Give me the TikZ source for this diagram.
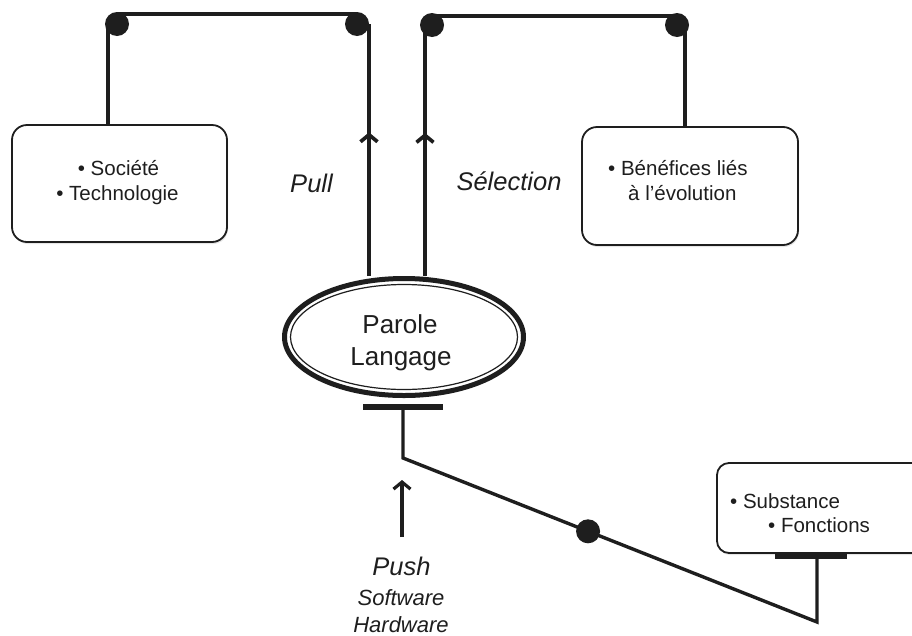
\documentclass[tikz,border=0pt]{standalone}
\usepackage{fontspec}
\setmainfont{Liberation Sans}
\usetikzlibrary{arrows.meta,decorations.markings,calc,shapes.geometric,shadows}
\definecolor{ink}{HTML}{1E1E1E}
\begin{document}
\begin{tikzpicture}[x=1pt,y=-1pt,
  box/.style={draw=ink, line width=1.8pt, rounded corners=15pt, fill=white, inner sep=0pt,
    drop shadow={opacity=0.2, shadow xshift=1pt, shadow yshift=-2pt}},
  conn/.style={line width=3.7pt, draw=ink},
  dot/.style={circle, fill=ink, inner sep=0pt, minimum size=24pt},
  bar/.style={rectangle, fill=ink, inner sep=0pt, minimum height=6pt},
  lbl/.style={font=\fontsize{20.5}{24}\selectfont, text=ink, inner sep=0pt, anchor=base},
  big/.style={font=\fontsize{26}{30}\selectfont, text=ink, inner sep=0pt, anchor=base},
  bigit/.style={font=\fontsize{25.5}{30}\selectfont\itshape, text=ink, inner sep=0pt, anchor=base},
  smit/.style={font=\fontsize{22}{26}\selectfont\itshape, text=ink, inner sep=0pt, anchor=base},
  midarrow/.style={postaction={decorate}, decoration={markings, mark=at position #1 with {\arrow{Straight Barb[length=7pt,width=17pt]}}}}
]
\useasboundingbox (0,0) rectangle (912,635);
\clip (0,0) rectangle (912,635);

% boxes and ellipse
\node[box, minimum width=215pt, minimum height=117pt] (lbox) at (119.5,183.5) {};
\node[box, minimum width=216pt, minimum height=118pt] (rbox) at (690,186) {};
\node[box, rounded corners=12pt, minimum width=213pt, minimum height=90pt] (sbox) at (823.5,508) {};
\node[ellipse, draw=ink, fill=white, line width=5pt, minimum width=239pt, minimum height=117pt, inner sep=0pt,
  drop shadow={opacity=0.2, shadow xshift=1pt, shadow yshift=-2pt}] (ell) at (404,337) {};
\draw[ink, line width=1.2pt] (ell.center) ellipse [x radius=113.5, y radius=52.5];

% dots, bars, corners
\node[dot] (d1) at (117,24) {};
\node[dot] (d2) at (357,24) {};
\node[dot] (d3) at (432,25) {};
\node[dot] (d4) at (677,25) {};
\node[bar, minimum width=80pt] (b1) at (403,407) {};
\node[bar, minimum width=72pt, minimum height=5pt] (b2) at (811,556) {};
\coordinate (k1) at (403,458);
\coordinate (k2) at (817,622);
\node[dot] (d5) at ($(k1)!0.447!(k2)$) {};
\coordinate (pushtop) at (402,480);
\coordinate (pushbot) at (402,537);

\coordinate (d1s) at ([xshift=-9pt]d1.center);
\coordinate (d2s) at ([xshift=12pt]d2.center);
\coordinate (d3s) at ([xshift=-7pt]d3.center);
\coordinate (d4s) at ([xshift=8pt]d4.center);

% connectors
\draw[conn] (d1s) -- (d1s |- lbox.north);
\draw[conn] ([yshift=10pt]d1.center) -- ([yshift=10pt]d2.center);
\draw[conn, midarrow=0.57] (d2s |- ell.north) -- (d2s);
\draw[conn, midarrow=0.57] (d3s |- ell.north) -- (d3s);
\draw[conn] ([yshift=9pt]d3.center) -- ([yshift=9pt]d4.center);
\draw[conn] (d4s) -- (d4s |- rbox.north);
\draw[ink, line width=3.4pt] (b1.center) -- (k1) -- (k2) -- (k2 |- b2.center);
\draw[ink, line width=3.2pt, -{Straight Barb[length=7pt,width=17pt]}] (pushbot) -- (pushtop);

% texts
\node[lbl] (t1) at (118.5,175) {\textbullet\ Société};
\node[lbl] (t2) at (117.5,200) {\textbullet\ Technologie};
\node[lbl, anchor=base west] (t3) at (608,175) {\textbullet\ Bénéfices liés};
\node[lbl, anchor=base west] (t4) at (628,200) {à l’évolution};
\node[bigit] (pull) at (311.5,192) {Pull};
\node[bigit] (sel) at (509,190) {Sélection};
\node[big] (p1) at (400,333) {Parole};
\node[big] (p2) at (401,365) {Langage};
\node[bigit] (push) at (401.5,575) {Push};
\node[smit] (sw) at (401,605) {Software};
\node[smit] (hw) at (401,632) {Hardware};
\node[lbl, anchor=base west] (s1) at (730,508) {\textbullet\ Substance};
\node[lbl, anchor=base west] (s2) at (768,532) {\textbullet\ Fonctions};
\end{tikzpicture}
\end{document}
